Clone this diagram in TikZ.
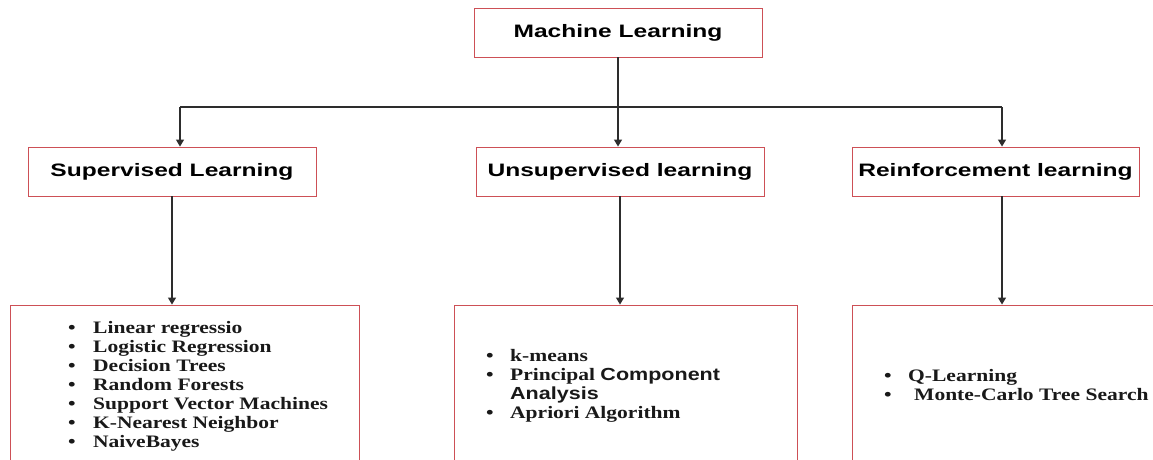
\documentclass[tikz,border=0pt]{standalone}
\usepackage{fontspec}
\setmainfont{Liberation Serif}
\newfontfamily\hdfont[FakeStretch=1.365]{Liberation Sans}
\newfontfamily\lsfont[FakeStretch=1.23]{Liberation Serif}
\newfontfamily\lssans[FakeStretch=1.23]{Liberation Sans}
\usetikzlibrary{arrows.meta}
\definecolor{boxred}{RGB}{205,80,86}
\definecolor{conn}{RGB}{45,45,45}
\tikzset{
  hdbox/.style={draw=boxred, line width=0.9pt, fill=white, inner sep=0pt,
    minimum height=49pt, font=\hdfont\bfseries\fontsize{18}{20}\selectfont},
  listbox/.style={draw=boxred, line width=0.9pt, fill=white, inner sep=0pt, minimum height=175pt},
  item/.style={anchor=base west, inner sep=0pt, font=\lsfont\bfseries\fontsize{17.5}{19}\selectfont, text=black!90},
  conline/.style={draw=conn, line width=1.2pt},
  conarrow/.style={conline, -{Triangle[width=8pt,length=7pt]}}
}
\begin{document}
\begin{tikzpicture}[x=1pt,y=-1pt]
\useasboundingbox (0,0) rectangle (1153,459);
\clip (0,0) rectangle (1153,459);
% header boxes
\node[hdbox, minimum width=288pt] (ml) at (618,32.5) {Machine Learning};
\node[hdbox, minimum width=288pt] (sup) at (172,171.5) {Supervised Learning};
\node[hdbox, minimum width=288pt] (un) at (620,171.5) {Unsupervised learning};
\node[hdbox, minimum width=287pt] (rl) at (995.5,171.5) {Reinforcement learning};
% list boxes
\node[listbox, minimum width=349pt] (supl) at (184.5,392.5) {};
\node[listbox, minimum width=343pt] (unl) at (625.5,392.5) {};
\node[listbox, minimum width=318pt] (rll) at (1011,392.5) {};
% bus coordinates
\coordinate (bl) at (180,107);
\coordinate (br) at (1002,107);
\coordinate (bm) at (ml.south |- bl);
% connectors
\draw[conline] (ml.south) -- (bm);
\draw[conline] (bl) -- (br);
\draw[conarrow] (bl) -- (bl |- sup.north);
\draw[conarrow] (bm) -- (bm |- un.north);
\draw[conarrow] (br) -- (br |- rl.north);
\draw[conarrow] (sup.south) -- (sup.south |- supl.north);
\draw[conarrow] (un.south) -- (un.south |- unl.north);
\draw[conarrow] (br |- rl.south) -- (br |- rll.north);
% supervised list
\node[item] (s1) at (68,333) {\makebox[25pt][l]{\textbullet}Linear regressio};
\node[item] (s2) at (68,352) {\makebox[25pt][l]{\textbullet}Logistic Regression};
\node[item] (s3) at (68,371) {\makebox[25pt][l]{\textbullet}Decision Trees};
\node[item] (s4) at (68,390) {\makebox[25pt][l]{\textbullet}Random Forests};
\node[item] (s5) at (68,409) {\makebox[25pt][l]{\textbullet}Support Vector Machines};
\node[item] (s6) at (68,428) {\makebox[25pt][l]{\textbullet}K-Nearest Neighbor};
\node[item] (s7) at (68,447) {\makebox[25pt][l]{\textbullet}NaiveBayes};
% unsupervised list
\node[item] (u1) at (486,361) {\makebox[24pt][l]{\textbullet}k-means};
\node[item] (u2) at (486,380) {\makebox[24pt][l]{\textbullet}Principal {\lssans\bfseries Component}};
\node[item] (u3) at (486,399) {\makebox[24pt][l]{}{\lssans\bfseries Analysis}};
\node[item] (u4) at (486,418) {\makebox[24pt][l]{\textbullet}Apriori Algorithm};
% reinforcement list
\node[item] (r1) at (884,381) {\makebox[24pt][l]{\textbullet}Q-Learning};
\node[item] (r2) at (884,400) {\makebox[24pt][l]{\textbullet}\hspace{6pt}Monte-Carlo Tree Search};
\end{tikzpicture}
\end{document}
